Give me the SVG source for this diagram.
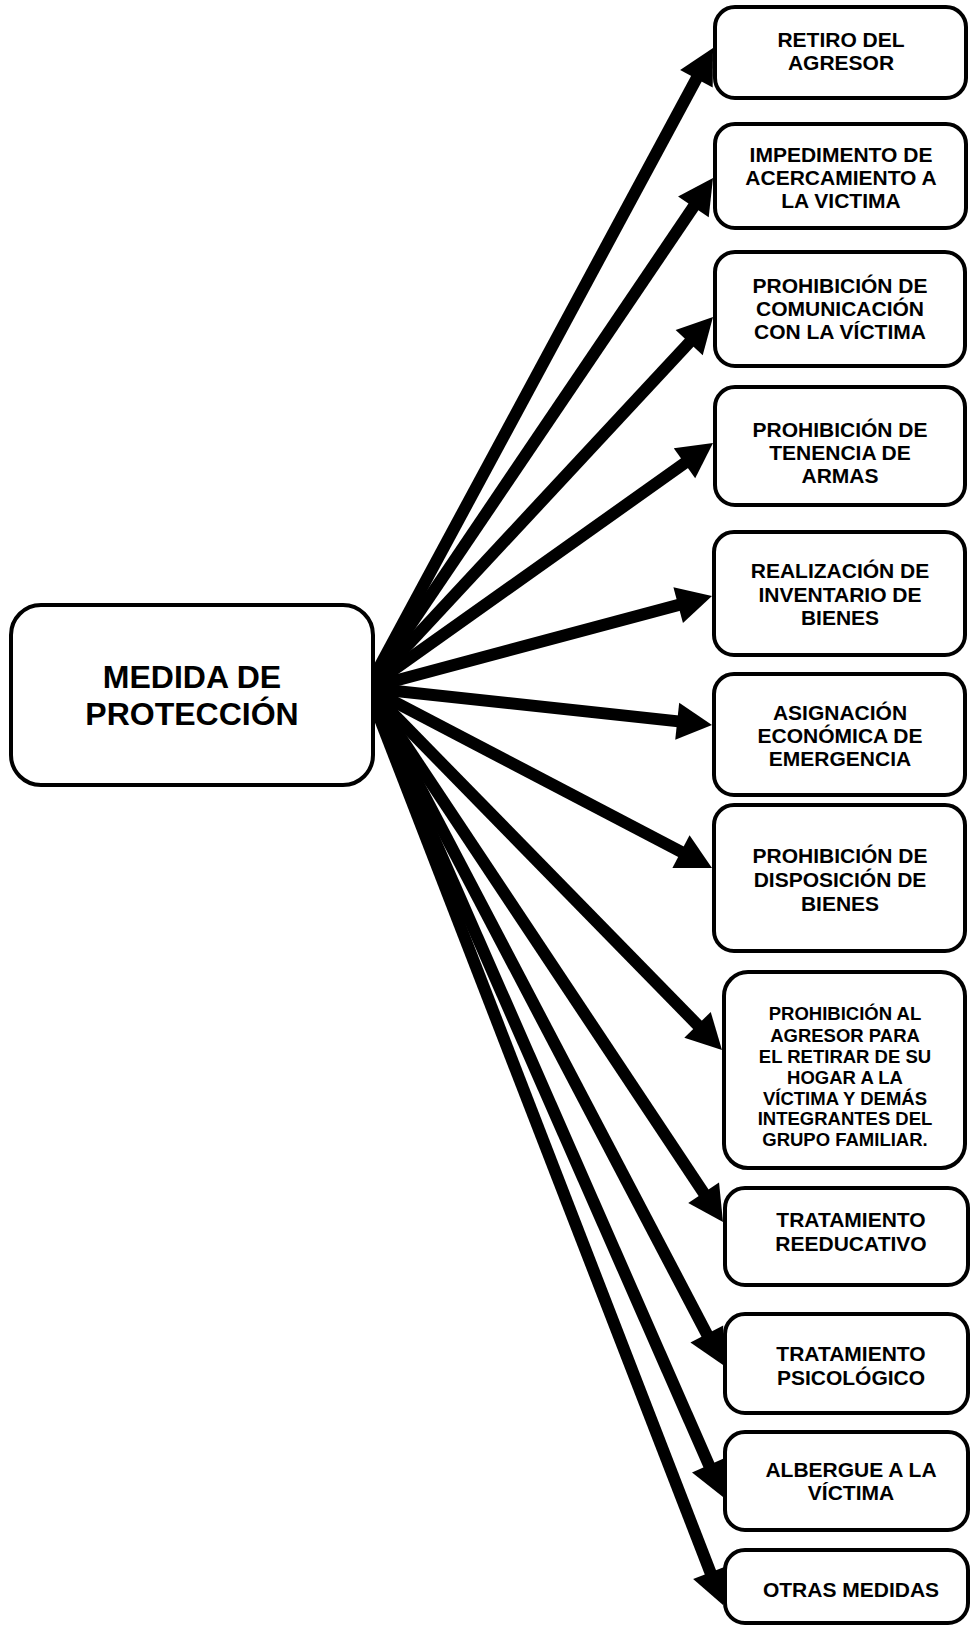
<svg xmlns="http://www.w3.org/2000/svg" width="971" height="1627" viewBox="0 0 971 1627">
<style>
.box{fill:#fff;stroke:#000;stroke-width:4}
.t{font-family:"Liberation Sans",Arial,sans-serif;font-weight:bold;fill:#000;text-anchor:middle}
.s{font-size:21px}
.m{font-size:32px}
.k{font-size:18.5px}
.c line{stroke:#000;stroke-width:12;marker-end:url(#ah)}
</style>
<defs>
<marker id="ah" markerUnits="userSpaceOnUse" markerWidth="36" markerHeight="38" refX="20" refY="18.5" orient="auto" overflow="visible">
<path d="M0,0 L35,18.5 L0,37 z" fill="#000"/>
</marker>
</defs>
<rect width="971" height="1627" fill="#fff"/>
<g id="connectors" class="c">
<line x1="368" y1="688" x2="705.9" y2="61.2"/>
<line x1="368" y1="688" x2="704.6" y2="190.4"/>
<line x1="368" y1="688" x2="702.8" y2="328.0"/>
<line x1="368" y1="688" x2="700.8" y2="451.7"/>
<line x1="368" y1="688" x2="697.5" y2="599.9"/>
<line x1="368" y1="688" x2="697.1" y2="723.4"/>
<line x1="368" y1="688" x2="698.7" y2="861.0"/>
<line x1="368" y1="688" x2="711.5" y2="1039.2"/>
<line x1="368" y1="688" x2="714.7" y2="1209.5"/>
<line x1="368" y1="688" x2="716.1" y2="1351.7"/>
<line x1="368" y1="688" x2="717.0" y2="1483.3"/>
<line x1="368" y1="688" x2="717.6" y2="1591.0"/>
</g>
<g id="main">
<rect class="box" x="11" y="605" width="362" height="180" rx="30"/>
<text class="t m" x="192" y="688">MEDIDA DE</text>
<text class="t m" x="192" y="725">PROTECCIÓN</text>
</g>
<g id="n1">
<rect class="box" x="715" y="7" width="251" height="91" rx="20"/>
<text class="t s" x="841" y="47">RETIRO DEL</text>
<text class="t s" x="841" y="70">AGRESOR</text>
</g>
<g id="n2">
<rect class="box" x="715" y="124" width="251" height="104" rx="20"/>
<text class="t s" x="841" y="162">IMPEDIMENTO DE</text>
<text class="t s" x="841" y="185">ACERCAMIENTO A</text>
<text class="t s" x="841" y="208">LA VICTIMA</text>
</g>
<g id="n3">
<rect class="box" x="715" y="252" width="250" height="114" rx="20"/>
<text class="t s" x="840" y="293">PROHIBICIÓN DE</text>
<text class="t s" x="840" y="316">COMUNICACIÓN</text>
<text class="t s" x="840" y="339">CON LA VÍCTIMA</text>
</g>
<g id="n4">
<rect class="box" x="715" y="387" width="250" height="118" rx="20"/>
<text class="t s" x="840" y="437">PROHIBICIÓN DE</text>
<text class="t s" x="840" y="460">TENENCIA DE</text>
<text class="t s" x="840" y="483">ARMAS</text>
</g>
<g id="n5">
<rect class="box" x="714" y="532" width="251" height="123" rx="20"/>
<text class="t s" x="840" y="578">REALIZACIÓN DE</text>
<text class="t s" x="840" y="602">INVENTARIO DE</text>
<text class="t s" x="840" y="625">BIENES</text>
</g>
<g id="n6">
<rect class="box" x="714" y="674" width="251" height="121" rx="20"/>
<text class="t s" x="840" y="720">ASIGNACIÓN</text>
<text class="t s" x="840" y="743">ECONÓMICA DE</text>
<text class="t s" x="840" y="766">EMERGENCIA</text>
</g>
<g id="n7">
<rect class="box" x="714" y="805" width="251" height="146" rx="20"/>
<text class="t s" x="840" y="863">PROHIBICIÓN DE</text>
<text class="t s" x="840" y="887">DISPOSICIÓN DE</text>
<text class="t s" x="840" y="911">BIENES</text>
</g>
<g id="n8">
<rect class="box" x="724" y="972" width="241" height="196" rx="24"/>
<text class="t k" x="845" y="1020">PROHIBICIÓN AL</text>
<text class="t k" x="845" y="1042">AGRESOR PARA</text>
<text class="t k" x="845" y="1063">EL RETIRAR DE SU</text>
<text class="t k" x="845" y="1084">HOGAR A LA</text>
<text class="t k" x="845" y="1105">VÍCTIMA Y DEMÁS</text>
<text class="t k" x="845" y="1125">INTEGRANTES DEL</text>
<text class="t k" x="845" y="1146">GRUPO FAMILIAR.</text>
</g>
<g id="n9">
<rect class="box" x="725" y="1188" width="243" height="97" rx="20"/>
<text class="t s" x="851" y="1227">TRATAMIENTO</text>
<text class="t s" x="851" y="1251">REEDUCATIVO</text>
</g>
<g id="n10">
<rect class="box" x="725" y="1314" width="243" height="99" rx="20"/>
<text class="t s" x="851" y="1361">TRATAMIENTO</text>
<text class="t s" x="851" y="1385">PSICOLÓGICO</text>
</g>
<g id="n11">
<rect class="box" x="725" y="1432" width="243" height="98" rx="20"/>
<text class="t s" x="851" y="1477">ALBERGUE A LA</text>
<text class="t s" x="851" y="1500">VÍCTIMA</text>
</g>
<g id="n12">
<rect class="box" x="725" y="1550" width="243" height="73" rx="20"/>
<text class="t s" x="851" y="1597">OTRAS MEDIDAS</text>
</g>
</svg>
